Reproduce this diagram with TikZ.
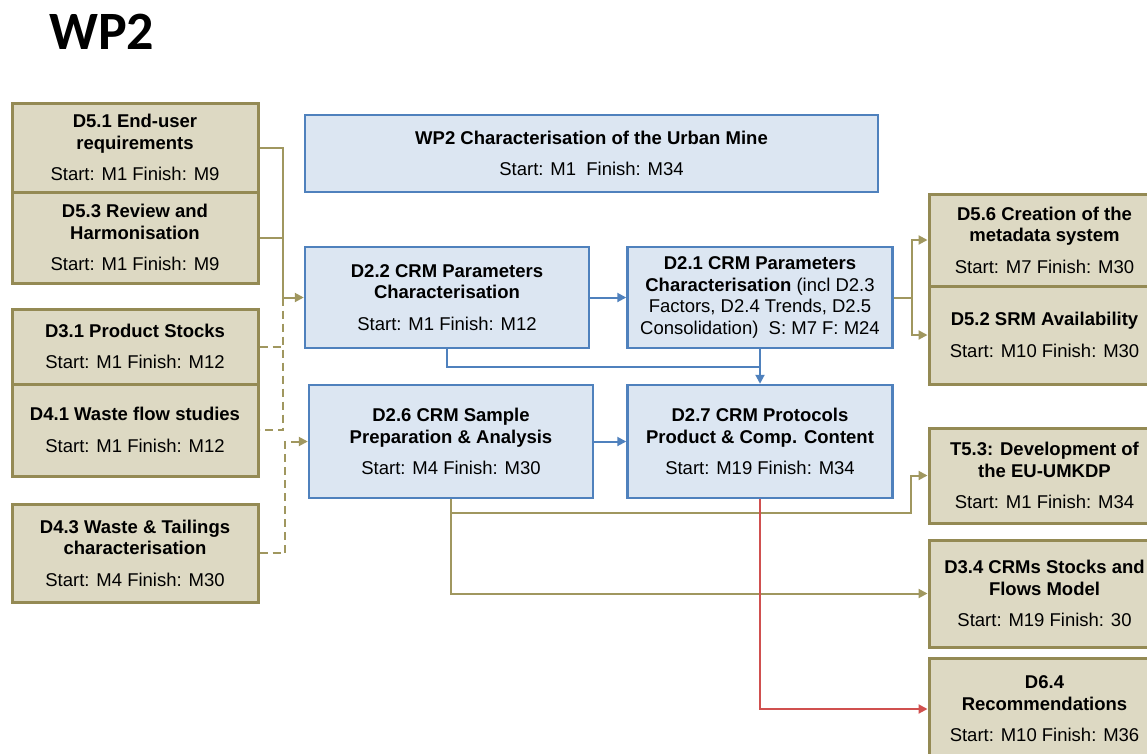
\documentclass[tikz,border=0pt]{standalone}
\usepackage{fontspec}
\setmainfont{Liberation Sans}
\newfontfamily\headfont{Carlito}
\usepackage{tikz}
\usetikzlibrary{positioning,arrows.meta}

\definecolor{tanfill}{HTML}{DDD9C3}
\definecolor{tanline}{HTML}{948A54}
\definecolor{feedline}{HTML}{A0975F}
\definecolor{bluefill}{HTML}{DCE6F2}
\definecolor{blueline}{HTML}{4F81BD}
\definecolor{redline}{HTML}{D0504F}

\newcommand{\sched}[1]{{\mdseries #1}}

\begin{document}
\begin{tikzpicture}[x=1pt,y=-1pt,
    box/.style={align=center, inner sep=2pt,
      font={\fontsize{18.5}{21.5}\selectfont\bfseries}},
    tanbox/.style={box, draw=tanline, fill=tanfill, line width=3pt},
    bluebox/.style={box, draw=blueline, fill=bluefill, line width=2.5pt},
    feed/.style={draw=feedline, line width=2pt},
    flow/.style={draw=blueline, line width=2pt},
    alarm/.style={draw=redline, line width=2pt},
    >={Triangle[length=9pt,width=9pt]}]

    \clip (0,0) rectangle (1147,753);
    \fill[white] (0,0) rectangle (1147,753);

    \node[anchor=base west, inner sep=0pt] (title) at (49,49)
        {\headfont\fontsize{54}{60}\selectfont\bfseries WP2};

    % inputs on the left
    \node[tanbox, minimum width=246, minimum height=89] (d51) at (135,147.5)
        {D5.1 End-user\\requirements\\[10pt]\sched{Start: M1 Finish: M9}};
    \node[tanbox, minimum width=246, minimum height=91] (d53) at (135,237.5)
        {D5.3 Review and\\Harmonisation\\[10pt]\sched{Start: M1 Finish: M9}};
    \node[tanbox, minimum width=246, minimum height=75] (d31) at (135,346.5)
        {D3.1 Product Stocks\\[10pt]\sched{Start: M1 Finish: M12}};
    \node[tanbox, minimum width=246, minimum height=92] (d41) at (135,430)
        {D4.1 Waste flow studies\\[10pt]\sched{Start: M1 Finish: M12}};
    \node[tanbox, minimum width=246, minimum height=98] (d43) at (135,553)
        {D4.3 Waste \& Tailings\\characterisation\\[10pt]\sched{Start: M4 Finish: M30}};

    % work package tasks
    \node[bluebox, minimum width=573, minimum height=77] (wp2) at (591.5,153.5)
        {WP2 Characterisation of the Urban Mine\\[10pt]\sched{Start: M1~~Finish: M34}};
    \node[bluebox, minimum width=284, minimum height=101] (d22) at (447,297.5)
        {D2.2 CRM Parameters\\Characterisation\\[10pt]\sched{Start: M1 Finish: M12}};
    \node[bluebox, minimum width=265, minimum height=101] (d21) at (760,297.5)
        {D2.1 CRM Parameters\\Characterisation \sched{(incl D2.3}\\\sched{Factors, D2.4 Trends, D2.5}\\\sched{Consolidation)~~S: M7 F: M24}};
    \node[bluebox, minimum width=284, minimum height=113] (d26) at (451,441.5)
        {D2.6 CRM Sample\\Preparation \& Analysis\\[10pt]\sched{Start: M4 Finish: M30}};
    \node[bluebox, minimum width=265, minimum height=113] (d27) at (760,441.5)
        {D2.7 CRM Protocols\\Product \& Comp. Content\\[10pt]\sched{Start: M19 Finish: M34}};

    % outputs on the right
    \node[tanbox, minimum width=231, minimum height=92] (d56) at (1044.5,240)
        {D5.6 Creation of the\\metadata system\\[10pt]\sched{Start: M7 Finish: M30}};
    \node[tanbox, minimum width=231, minimum height=98] (d52) at (1044.5,335)
        {D5.2 SRM Availability\\[10pt]\sched{Start: M10 Finish: M30}};
    \node[tanbox, minimum width=231, minimum height=95] (t53) at (1044.5,475.5)
        {T5.3: Development of\\the EU-UMKDP\\[10pt]\sched{Start: M1 Finish: M34}};
    \node[tanbox, minimum width=231, minimum height=107] (d34) at (1044.5,593.5)
        {D3.4 CRMs Stocks and\\Flows Model\\[10pt]\sched{Start: M19 Finish: 30}};
    \node[tanbox, minimum width=231, minimum height=102] (d64) at (1044.5,709)
        {D6.4\\Recommendations\\[10pt]\sched{Start: M10 Finish: M36}};

    \coordinate (jin) at (283,297.5);
    \coordinate (jlow) at (285,441.5);
    \coordinate (jmid) at (760,367);
    \coordinate (jout) at (912,297.5);
    \coordinate (jt) at (451,513);
    \coordinate (tbend) at (911,513);

    \draw[feed] (d51.east) -| (jin);
    \draw[feed] (d53.east) -- (d53.east -| jin);
    \draw[feed,->] (jin) -- (d22.west);
    \draw[feed,dash pattern=on 8pt off 5pt] (jin) |- (d41.east);
    \draw[feed,dash pattern=on 8pt off 5pt] (d31.east) -- (d31.east -| jin);
    \draw[feed,dash pattern=on 8pt off 5pt,->] (d43.east) -| (jlow) -- (d26.west);

    \draw[flow,->] (d22) -- (d21);
    \draw[flow,->] (d26) -- (d27);
    \draw[flow] (d22.south) |- (jmid);
    \draw[flow,->] (d21.south) -- (d27.north);

    \draw[feed] (d21.east) -- (jout);
    \draw[feed,->] (jout) |- (d56.west);
    \draw[feed,->] (jout) |- (d52.west);

    \draw[feed,->] (d26.south) |- (d34.west);
    \draw[feed,->] (jt) -- (tbend) |- (t53.west);

    \draw[alarm,->] (d27.south) |- (d64.west);

\end{tikzpicture}
\end{document}
